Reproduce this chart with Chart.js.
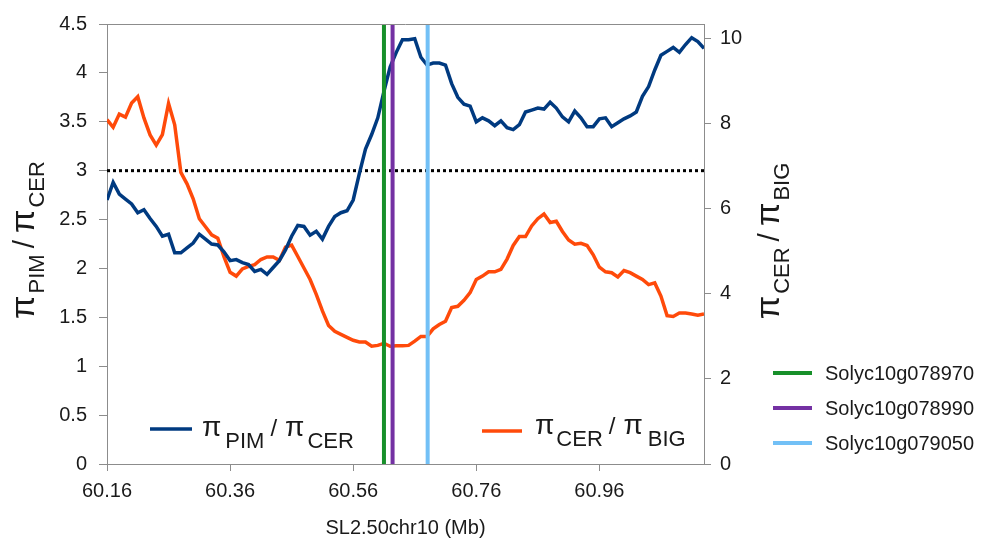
<!DOCTYPE html>
<html>
  <head>
    <meta charset="utf-8">
    <script src="https://cdn.jsdelivr.net/npm/chart.js"></script>
    <style>
      html, body { margin: 0; padding: 0; background: #fff; }
    </style>
  </head>
  <body>
    <canvas id="Chart" width="992" height="542"></canvas>
    <script>
      // window centres (Mb)
      const positions = [
        60.16, 60.17, 60.18, 60.19, 60.20, 60.21, 60.22, 60.23, 60.24, 60.25,
        60.26, 60.27, 60.28, 60.29, 60.30, 60.31, 60.32, 60.33, 60.34, 60.35,
        60.36, 60.37, 60.38, 60.39, 60.40, 60.41, 60.42, 60.43, 60.44, 60.45,
        60.46, 60.47, 60.48, 60.49, 60.50, 60.51, 60.52, 60.53, 60.54, 60.55,
        60.56, 60.57, 60.58, 60.59, 60.60, 60.61, 60.62, 60.63, 60.64, 60.65,
        60.66, 60.67, 60.68, 60.69, 60.70, 60.71, 60.72, 60.73, 60.74, 60.75,
        60.76, 60.77, 60.78, 60.79, 60.80, 60.81, 60.82, 60.83, 60.84, 60.85,
        60.86, 60.87, 60.88, 60.89, 60.90, 60.91, 60.92, 60.93, 60.94, 60.95,
        60.96, 60.97, 60.98, 60.99, 61.00, 61.01, 61.02, 61.03, 61.04, 61.05,
        61.06, 61.07, 61.08, 61.09, 61.10, 61.11, 61.12, 61.13,
      ];
      // left axis
      const piPimCer = [
        2.70, 2.88, 2.76, 2.71, 2.66, 2.57, 2.60, 2.51, 2.43, 2.33,
        2.35, 2.16, 2.16, 2.21, 2.26, 2.35, 2.30, 2.25, 2.24, 2.17,
        2.08, 2.09, 2.06, 2.04, 1.97, 1.99, 1.94, 2.01, 2.08, 2.19,
        2.33, 2.44, 2.43, 2.34, 2.38, 2.30, 2.43, 2.53, 2.57, 2.59,
        2.70, 2.97, 3.22, 3.37, 3.54, 3.81, 4.06, 4.21, 4.34, 4.34,
        4.35, 4.16, 4.08, 4.10, 4.10, 4.08, 3.89, 3.75, 3.68, 3.66,
        3.50, 3.54, 3.51, 3.46, 3.51, 3.44, 3.42, 3.47, 3.60, 3.62,
        3.64, 3.63, 3.70, 3.64, 3.55, 3.50, 3.61, 3.54, 3.45, 3.45,
        3.53, 3.54, 3.45, 3.49, 3.53, 3.56, 3.60, 3.76, 3.86, 4.03,
        4.18, 4.22, 4.26, 4.21, 4.29, 4.36, 4.32, 4.25,
      ];
      // right axis
      const piCerBig = [
        8.10, 7.92, 8.23, 8.16, 8.49, 8.64, 8.14, 7.74, 7.50, 7.75,
        8.48, 7.98, 6.86, 6.59, 6.24, 5.77, 5.58, 5.39, 5.31, 4.88,
        4.51, 4.42, 4.59, 4.65, 4.69, 4.81, 4.87, 4.87, 4.79, 5.10,
        5.15, 4.88, 4.61, 4.34, 3.99, 3.60, 3.26, 3.12, 3.05, 2.98,
        2.91, 2.87, 2.87, 2.77, 2.79, 2.84, 2.77, 2.78, 2.78, 2.79,
        2.89, 3.00, 3.00, 3.18, 3.28, 3.36, 3.68, 3.71, 3.85, 4.03,
        4.34, 4.42, 4.52, 4.52, 4.58, 4.82, 5.14, 5.35, 5.35, 5.60,
        5.77, 5.88, 5.68, 5.71, 5.47, 5.27, 5.17, 5.19, 5.14, 4.92,
        4.63, 4.52, 4.50, 4.40, 4.55, 4.50, 4.42, 4.34, 4.22, 4.26,
        3.95, 3.49, 3.47, 3.55, 3.55, 3.53, 3.50, 3.53,
      ];
      const xTicks = [60.16, 60.36, 60.56, 60.76, 60.96];
      const threshold = 3;
      const geneNames = ["Solyc10g078970", "Solyc10g078990", "Solyc10g079050"];
      const genePos = [60.61, 60.624, 60.681];
      const geneColors = ["#17902a", "#7431a3", "#72c0f6"];

      const FONT = "'Liberation Sans', Arial, sans-serif";
      const TEXT = "#1a1a1a";
      const AXIS = "#8c8c8c";
      const BLUE = "#003a80";
      const ORANGE = "#ff4a0a";

      // draws a run of text pieces (pi + subscript) along a baseline
      function drawParts(ctx, parts, x, y, rot, centered) {
        ctx.save();
        ctx.translate(x, y);
        ctx.rotate(rot);
        ctx.fillStyle = TEXT;
        ctx.textBaseline = "alphabetic";
        ctx.textAlign = "left";
        let total = 0;
        parts.forEach((p) => {
          ctx.font = `${p.size}px ${FONT}`;
          p.w = ctx.measureText(p.text).width;
          total += p.w + (p.gap || 0);
        });
        let cx = centered ? -total / 2 : 0;
        parts.forEach((p) => {
          ctx.font = `${p.size}px ${FONT}`;
          ctx.fillText(p.text, cx, p.dy || 0);
          cx += p.w + (p.gap || 0);
        });
        ctx.restore();
      }

      function ratio(a, b, big, small, sub, gaps) {
        return [
          { text: "\u03C0", size: big, gap: gaps[0] },
          { text: a, size: small, dy: sub, gap: gaps[1] },
          { text: "/", size: big - 4, gap: gaps[2] },
          { text: "\u03C0", size: big, gap: gaps[3] },
          { text: b, size: small, dy: sub },
        ];
      }

      const annotations = {
        id: "annotations",
        afterDraw(chart) {
          const ctx = chart.ctx;
          const a = chart.chartArea;
          ctx.save();
          // top frame line
          ctx.strokeStyle = AXIS;
          ctx.lineWidth = 1;
          ctx.beginPath();
          ctx.moveTo(a.left, a.top + 0.5);
          ctx.lineTo(a.right, a.top + 0.5);
          ctx.stroke();

          // in-plot series legends
          const ds = chart.data.datasets;
          ctx.lineWidth = 3.5;
          ctx.strokeStyle = ds[1].borderColor;
          ctx.beginPath();
          ctx.moveTo(150, 429);
          ctx.lineTo(192, 429);
          ctx.stroke();
          ctx.strokeStyle = ds[2].borderColor;
          ctx.beginPath();
          ctx.moveTo(482, 431);
          ctx.lineTo(522, 431);
          ctx.stroke();
          drawParts(ctx, ratio("PIM", "CER", 28, 22, 12, [4, 6, 8, 3]), 202, 436, 0, false);
          drawParts(ctx, ratio("CER", "BIG", 28, 22, 12, [2, 6, 8, 5]), 535, 434, 0, false);

          // axis titles
          drawParts(ctx, ratio("PIM", "CER", 34, 22, 10, [2, 6, 7, 2]), 34, 240, -Math.PI / 2, true);
          drawParts(ctx, ratio("CER", "BIG", 34, 22, 10, [2, 6, 7, 2]), 779, 241, -Math.PI / 2, true);

          // gene legend
          const rows = [373, 408, 443];
          ds.slice(3).forEach((d, i) => {
            ctx.strokeStyle = d.borderColor;
            ctx.lineWidth = 4;
            ctx.beginPath();
            ctx.moveTo(773, rows[i]);
            ctx.lineTo(812, rows[i]);
            ctx.stroke();
            ctx.fillStyle = TEXT;
            ctx.font = `20px ${FONT}`;
            ctx.textBaseline = "middle";
            ctx.fillText(d.label, 825, rows[i] + 1);
          });
          ctx.restore();
        },
      };

      const pts = (vals) => positions.map((p, i) => ({ x: p, y: vals[i] }));

      const datasets = [
        {
          label: "threshold",
          data: [
            { x: positions[0], y: threshold },
            { x: positions[positions.length - 1], y: threshold },
          ],
          yAxisID: "y",
          borderColor: "#000",
          borderWidth: 3,
          borderDash: [3, 3],
          order: 5,
        },
        {
          label: "\u03C0PIM / \u03C0CER",
          data: pts(piPimCer),
          yAxisID: "y",
          borderColor: BLUE,
          borderWidth: 3.5,
          order: 2,
        },
        {
          label: "\u03C0CER / \u03C0BIG",
          data: pts(piCerBig),
          yAxisID: "y2",
          borderColor: ORANGE,
          borderWidth: 3.5,
          order: 3,
        },
      ];
      geneNames.forEach((name, i) => {
        datasets.push({
          label: name,
          data: [
            { x: genePos[i], y: 0 },
            { x: genePos[i], y: 4.5 },
          ],
          yAxisID: "y",
          borderColor: geneColors[i],
          borderWidth: 4,
          order: 0,
        });
      });

      const tickFont = { family: FONT, size: 20 };

      new Chart(document.getElementById("Chart"), {
        type: "line",
        data: { datasets: datasets },
        options: {
          responsive: false,
          animation: false,
          layout: { padding: { top: 20, left: 0, right: 0, bottom: 0 } },
          elements: {
            point: { radius: 0 },
            line: { tension: 0, fill: false, borderCapStyle: "butt" },
          },
          plugins: { legend: { display: false }, tooltip: { enabled: false } },
          scales: {
            x: {
              type: "linear",
              min: positions[0],
              max: positions[positions.length - 1],
              afterBuildTicks: (s) => {
                s.ticks = xTicks.map((v) => ({ value: v }));
              },
              afterFit: (s) => {
                s.height = 78;
              },
              ticks: {
                callback: (v) => Number(v).toFixed(2),
                font: tickFont,
                color: TEXT,
                padding: 8,
                maxRotation: 0,
                autoSkip: false,
              },
              grid: { drawOnChartArea: false, tickLength: 7, color: AXIS },
              border: { color: AXIS },
              title: {
                display: true,
                text: "SL2.50chr10 (Mb)",
                font: tickFont,
                color: TEXT,
                padding: { top: 0, bottom: 2 },
              },
            },
            y: {
              position: "left",
              min: 0,
              max: 4.5,
              afterFit: (s) => {
                s.width = 107;
              },
              ticks: {
                stepSize: 0.5,
                callback: (v) => String(Math.round(v * 10) / 10),
                font: tickFont,
                color: TEXT,
                padding: 12,
              },
              grid: { drawOnChartArea: false, tickLength: 8, color: AXIS },
              border: { color: AXIS },
            },
            y2: {
              position: "right",
              min: 0,
              max: 10.35,
              afterFit: (s) => {
                s.width = 288;
              },
              ticks: { stepSize: 2, includeBounds: false, font: tickFont, color: TEXT, padding: 9 },
              grid: { drawOnChartArea: false, tickLength: 7, color: AXIS },
              border: { color: AXIS },
            },
          },
        },
        plugins: [annotations],
      });
    </script>
  </body>
</html>
